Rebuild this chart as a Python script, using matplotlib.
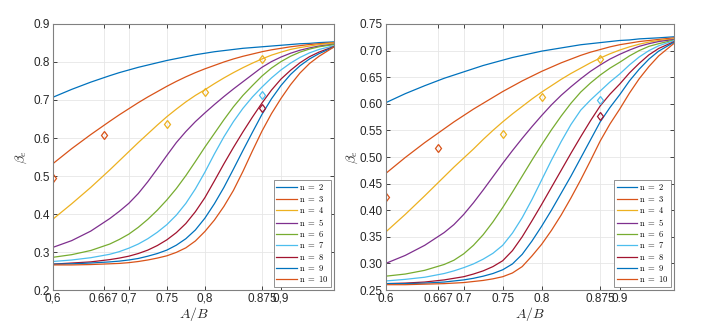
import numpy as np
import matplotlib.pyplot as plt

plt.rcParams['font.family'] = ['Liberation Sans', 'DejaVu Sans']
plt.rcParams['mathtext.fontset'] = 'cm'

# A/B sample points
ab = [0.6, 0.625, 0.65, 0.675, 0.6875, 0.7, 0.7125, 0.725, 0.7375, 0.75,
      0.7625, 0.775, 0.7875, 0.8, 0.8125, 0.825, 0.8375, 0.85, 0.8625,
      0.875, 0.8875, 0.9, 0.9125, 0.925, 0.9375, 0.95, 0.97]

# left panel, beta_e for n = 2..10
left_n2 = [0.707, 0.728, 0.747, 0.764, 0.772, 0.779, 0.786, 0.792, 0.798, 0.804,
           0.809, 0.814, 0.819, 0.823, 0.827, 0.830, 0.833, 0.836, 0.838,
           0.840, 0.842, 0.844, 0.846, 0.848, 0.849, 0.851, 0.853]
left_n3 = [0.532, 0.572, 0.609, 0.644, 0.661, 0.677, 0.693, 0.708, 0.722, 0.736,
           0.749, 0.761, 0.772, 0.782, 0.791, 0.800, 0.808, 0.815, 0.821,
           0.827, 0.832, 0.836, 0.840, 0.843, 0.846, 0.848, 0.851]
left_n4 = [0.386, 0.427, 0.470, 0.516, 0.540, 0.564, 0.588, 0.611, 0.634, 0.656,
           0.676, 0.695, 0.712, 0.727, 0.743, 0.758, 0.772, 0.785, 0.797,
           0.808, 0.818, 0.826, 0.833, 0.838, 0.842, 0.846, 0.850]
left_n5 = [0.312, 0.330, 0.355, 0.388, 0.407, 0.428, 0.454, 0.485, 0.519, 0.554,
           0.588, 0.617, 0.643, 0.666, 0.688, 0.709, 0.729, 0.748, 0.767,
           0.786, 0.801, 0.813, 0.823, 0.831, 0.837, 0.842, 0.847]
left_n6 = [0.286, 0.293, 0.304, 0.321, 0.333, 0.347, 0.365, 0.386, 0.410, 0.437,
           0.467, 0.501, 0.538, 0.576, 0.612, 0.648, 0.682, 0.712, 0.738,
           0.763, 0.784, 0.801, 0.815, 0.826, 0.834, 0.840, 0.846]
left_n7 = [0.275, 0.279, 0.285, 0.294, 0.301, 0.310, 0.321, 0.335, 0.352, 0.372,
           0.397, 0.428, 0.466, 0.510, 0.558, 0.603, 0.643, 0.678, 0.708,
           0.734, 0.758, 0.779, 0.797, 0.812, 0.824, 0.833, 0.843]
left_n8 = [0.268, 0.271, 0.274, 0.280, 0.284, 0.289, 0.296, 0.305, 0.317, 0.332,
           0.351, 0.375, 0.406, 0.443, 0.487, 0.532, 0.575, 0.616, 0.655,
           0.692, 0.726, 0.755, 0.778, 0.798, 0.814, 0.826, 0.841]
left_n9 = [0.268, 0.269, 0.271, 0.274, 0.276, 0.279, 0.283, 0.289, 0.296, 0.305,
           0.318, 0.335, 0.358, 0.389, 0.427, 0.470, 0.518, 0.567, 0.615,
           0.662, 0.703, 0.738, 0.767, 0.790, 0.808, 0.822, 0.840]
left_n10 = [0.266, 0.266, 0.267, 0.269, 0.270, 0.272, 0.275, 0.279, 0.284, 0.290,
            0.299, 0.311, 0.329, 0.354, 0.384, 0.420, 0.462, 0.512, 0.566,
            0.618, 0.664, 0.704, 0.740, 0.771, 0.796, 0.815, 0.840]

# right panel
right_n2 = [0.602, 0.619, 0.634, 0.648, 0.654, 0.660, 0.666, 0.672, 0.677, 0.682,
            0.687, 0.691, 0.695, 0.699, 0.702, 0.705, 0.708, 0.711, 0.713,
            0.715, 0.717, 0.719, 0.720, 0.722, 0.723, 0.724, 0.726]
right_n3 = [0.469, 0.499, 0.527, 0.553, 0.566, 0.578, 0.590, 0.601, 0.612, 0.623,
            0.633, 0.643, 0.652, 0.661, 0.669, 0.677, 0.684, 0.691, 0.697,
            0.702, 0.707, 0.711, 0.714, 0.717, 0.719, 0.721, 0.724]
right_n4 = [0.359, 0.392, 0.427, 0.463, 0.481, 0.498, 0.515, 0.533, 0.550, 0.566,
            0.581, 0.595, 0.609, 0.622, 0.634, 0.646, 0.657, 0.667, 0.677,
            0.686, 0.694, 0.701, 0.707, 0.712, 0.716, 0.719, 0.722]
right_n5 = [0.300, 0.315, 0.334, 0.358, 0.373, 0.392, 0.414, 0.438, 0.463, 0.488,
            0.512, 0.535, 0.557, 0.578, 0.598, 0.616, 0.632, 0.647, 0.661,
            0.673, 0.684, 0.693, 0.701, 0.708, 0.713, 0.717, 0.721]
right_n6 = [0.276, 0.280, 0.287, 0.298, 0.306, 0.318, 0.334, 0.354, 0.378, 0.405,
            0.434, 0.464, 0.494, 0.523, 0.551, 0.577, 0.601, 0.622, 0.639,
            0.654, 0.667, 0.678, 0.690, 0.700, 0.708, 0.713, 0.720]
right_n7 = [0.267, 0.270, 0.274, 0.281, 0.286, 0.292, 0.299, 0.308, 0.319, 0.334,
            0.357, 0.386, 0.420, 0.457, 0.494, 0.529, 0.561, 0.588, 0.607,
            0.624, 0.641, 0.656, 0.673, 0.688, 0.700, 0.709, 0.719]
right_n8 = [0.262, 0.263, 0.265, 0.269, 0.272, 0.275, 0.280, 0.286, 0.294, 0.305,
            0.324, 0.350, 0.380, 0.411, 0.443, 0.475, 0.507, 0.538, 0.568,
            0.596, 0.618, 0.637, 0.658, 0.676, 0.692, 0.704, 0.717]
right_n9 = [0.262, 0.262, 0.263, 0.265, 0.267, 0.269, 0.272, 0.276, 0.281, 0.288,
            0.299, 0.317, 0.342, 0.370, 0.400, 0.432, 0.464, 0.498, 0.532,
            0.566, 0.593, 0.617, 0.643, 0.665, 0.684, 0.699, 0.716]
right_n10 = [0.260, 0.260, 0.261, 0.262, 0.263, 0.264, 0.266, 0.268, 0.271, 0.275,
             0.282, 0.294, 0.314, 0.336, 0.362, 0.391, 0.423, 0.457, 0.493,
             0.530, 0.562, 0.590, 0.620, 0.647, 0.670, 0.690, 0.714]

# measured points (diamonds)
left_pts_x = [0.6, 0.667, 0.75, 0.8, 0.875, 0.875, 0.875]
left_pts_y = [0.494, 0.608, 0.638, 0.722, 0.807, 0.712, 0.678]
right_pts_x = [0.6, 0.667, 0.75, 0.8, 0.875, 0.875, 0.875]
right_pts_y = [0.425, 0.517, 0.543, 0.613, 0.685, 0.608, 0.577]
pts_col = [1, 1, 2, 2, 2, 5, 6]

n_labels = [2, 3, 4, 5, 6, 7, 8, 9, 10]
colors = ['#0072BD', '#D95319', '#EDB120', '#7E2F8E', '#77AC30',
          '#4DBEEE', '#A2142F', '#0072BD', '#D95319']

xticks = [0.6, 0.667, 0.7, 0.75, 0.8, 0.875, 0.9]
left_xticklabels = ['0,6', '0.667', '0,7', '0.75', '0,8', '0.875', '0,9']
right_xticklabels = ['0.6', '0.667', '0.7', '0.75', '0.8', '0.875', '0.9']
left_yticks = [0.2, 0.3, 0.4, 0.5, 0.6, 0.7, 0.8, 0.9]
right_yticks = [0.25, 0.3, 0.35, 0.4, 0.45, 0.5, 0.55, 0.6, 0.65, 0.7, 0.75]

left_curves = [left_n2, left_n3, left_n4, left_n5, left_n6, left_n7, left_n8, left_n9, left_n10]
right_curves = [right_n2, right_n3, right_n4, right_n5, right_n6, right_n7, right_n8, right_n9, right_n10]

fig = plt.figure(figsize=(7.2, 3.26), dpi=100)
ax1 = fig.add_axes([0.0732, 0.1104, 0.391, 0.816])
ax2 = fig.add_axes([0.5357, 0.1104, 0.4008, 0.816])

axcol = '#262626'


def draw(ax, curves, px, py, yticks, xlabels, ylim):
    for i, c in enumerate(curves):
        ax.plot(ab, c, color=colors[i], lw=0.9, label=r'$\mathrm{n\ =\ %d}$' % n_labels[i])
    for x, y, ci in zip(px, py, pts_col):
        ax.plot(x, y, 'd', mfc='none', mec=colors[ci], ms=4.5, mew=0.9)
    ax.set_xlim(0.6, 0.97)
    ax.set_ylim(*ylim)
    ax.set_xticks(xticks)
    ax.set_xticklabels(xlabels)
    ax.set_yticks(yticks)
    ax.grid(True, color='#e6e6e6', lw=0.6)
    ax.set_axisbelow(True)
    ax.tick_params(direction='in', top=True, right=True, length=3,
                   width=0.6, labelsize=8.5, colors=axcol, pad=2)
    for s in ax.spines.values():
        s.set_color('#808080')
        s.set_linewidth(0.8)
    ax.set_xlabel('$A/B$', fontsize=10, labelpad=0, color=axcol)
    ax.set_ylabel(r'$\beta_e$', fontsize=10, color=axcol)
    leg = ax.legend(loc='lower right', fontsize=6.2, handlelength=2.4,
                    handletextpad=0.2, labelspacing=0.16, borderpad=0.3,
                    fancybox=False, framealpha=1, borderaxespad=0.35)
    leg.get_frame().set_edgecolor('#808080')
    leg.get_frame().set_linewidth(0.6)


draw(ax1, left_curves, left_pts_x, left_pts_y, left_yticks, left_xticklabels, (0.2, 0.9))
draw(ax2, right_curves, right_pts_x, right_pts_y, right_yticks, right_xticklabels, (0.25, 0.75))
ax1.yaxis.set_label_coords(-0.085, 0.5)
ax2.yaxis.set_label_coords(-0.09, 0.5)

fig.savefig('out.png', dpi=100)
